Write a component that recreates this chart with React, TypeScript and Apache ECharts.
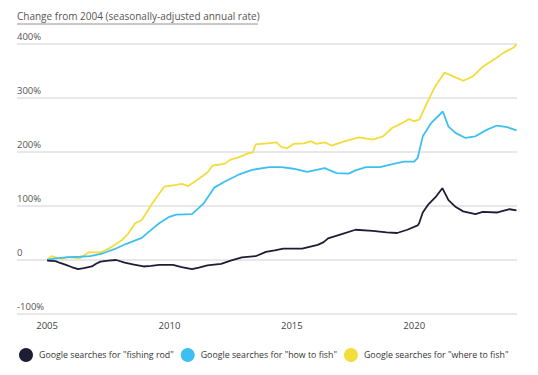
import React, { useEffect, useRef } from "react";
import * as echarts from "echarts";

const titleText = "Change from 2004 (seasonally-adjusted annual rate)";
const xTickValues = [2005, 2010, 2015, 2020];
const yTickValues = [-100, 0, 100, 200, 300, 400];

const seriesNames = [
  'Google searches for "fishing rod"',
  'Google searches for "how to fish"',
  'Google searches for "where to fish"',
];
const seriesColors = ["#1f1d35", "#3dc0f1", "#f3dc3b"];

const fishingRod: [number, number][] = [
  [2005.0, -1], [2005.35, -2], [2005.5, -5], [2005.77, -9], [2006.0, -13], [2006.27, -17],
  [2006.5, -15], [2006.83, -12], [2007.0, -7], [2007.18, -3], [2007.5, -1], [2007.82, 0],
  [2008.17, -5], [2008.5, -8], [2008.94, -12], [2009.25, -11], [2009.58, -9], [2010.14, -9],
  [2010.5, -13], [2010.92, -17], [2011.2, -14], [2011.55, -10], [2012.11, -7], [2012.5, -1],
  [2012.96, 5], [2013.52, 7], [2013.94, 15], [2014.3, 18], [2014.65, 21], [2015.42, 21],
  [2016.06, 28], [2016.3, 33], [2016.48, 40], [2017.04, 48], [2017.6, 56], [2018.3, 54],
  [2018.87, 51], [2019.3, 50], [2019.72, 56], [2020.14, 64], [2020.2, 68], [2020.35, 88],
  [2020.56, 102], [2020.9, 118], [2021.15, 133], [2021.4, 111], [2021.7, 98], [2022.0, 90],
  [2022.5, 85], [2022.8, 89], [2023.4, 88], [2023.9, 94], [2024.18, 92],
];

const howToFish: [number, number][] = [
  [2005.0, 0], [2005.35, 3], [2005.77, 5], [2006.34, 6], [2006.76, 7], [2007.25, 12],
  [2007.75, 20], [2008.24, 30], [2008.87, 41], [2009.15, 52], [2009.58, 68], [2010.0, 80],
  [2010.28, 84], [2010.92, 85], [2011.4, 105], [2011.83, 134], [2012.25, 145], [2012.82, 158],
  [2013.38, 167], [2014.08, 172], [2014.58, 172], [2015.07, 169], [2015.63, 163], [2016.34, 170],
  [2016.83, 161], [2017.32, 160], [2017.6, 166], [2018.03, 172], [2018.6, 172], [2019.15, 178],
  [2019.58, 182], [2020.0, 182], [2020.14, 189], [2020.35, 229], [2020.7, 254], [2021.17, 275],
  [2021.4, 247], [2021.7, 235], [2022.1, 226], [2022.5, 229], [2022.96, 241], [2023.38, 249],
  [2023.8, 246], [2024.18, 240],
];

const whereToFish: [number, number][] = [
  [2005.0, 1], [2005.2, 7], [2005.45, 3], [2005.63, 2], [2005.85, 6], [2006.34, 3],
  [2006.69, 14], [2007.18, 14], [2007.6, 23], [2008.03, 36], [2008.3, 48], [2008.6, 68],
  [2008.87, 74], [2009.3, 105], [2009.79, 136], [2010.28, 139], [2010.5, 141], [2010.77, 137],
  [2011.13, 148], [2011.55, 162], [2011.76, 175], [2012.25, 178], [2012.5, 186], [2012.82, 190],
  [2013.24, 198], [2013.4, 199], [2013.52, 214], [2014.0, 216], [2014.37, 218], [2014.58, 209],
  [2014.8, 207], [2015.07, 215], [2015.5, 216], [2015.77, 220], [2016.0, 215], [2016.34, 218],
  [2016.62, 212], [2017.18, 220], [2017.75, 227], [2018.3, 223], [2018.73, 229], [2019.08, 244],
  [2019.44, 252], [2019.79, 261], [2020.0, 257], [2020.21, 260], [2020.42, 281], [2020.85, 321],
  [2021.24, 347], [2021.55, 341], [2022.0, 332], [2022.4, 340], [2022.8, 358], [2023.38, 375],
  [2023.66, 384], [2024.08, 394], [2024.18, 400],
];

const allSeries = [fishingRod, howToFish, whereToFish];

export default function App() {
  const ref = useRef<HTMLDivElement>(null);
  useEffect(() => {
    if (!ref.current) return;
    const chart = echarts.init(ref.current, null, { renderer: "svg" });
    const font = "Open Sans";
    chart.setOption({
      animation: false,
      textStyle: { fontFamily: font },
      grid: { left: 17, right: 21, top: 44, bottom: 61, outerBoundsMode: "none", containLabel: false },
      graphic: [
        {
          type: "text",
          left: 17,
          top: 11,
          style: { text: titleText, fontSize: 10, fill: "#555", fontFamily: font },
        },
        {
          type: "line",
          shape: { x1: 17, y1: 24, x2: 258, y2: 24 },
          style: { stroke: "#777", lineWidth: 0.8 },
        },
      ],
      legend: {
        left: 19,
        top: 348,
        padding: 0,
        icon: "circle",
        itemWidth: 14,
        itemHeight: 14,
        itemGap: 7,
        textStyle: { fontSize: 8.8, color: "#333", fontFamily: font, padding: [0, 0, 0, 1] },
        data: seriesNames,
      },
      xAxis: {
        type: "value",
        min: 2003.77,
        max: 2024.2,
        axisLine: { show: false },
        axisTick: { show: false },
        splitLine: { show: false },
        axisLabel: {
          customValues: xTickValues,
          color: "#444",
          fontSize: 9.5,
          margin: 6,
          formatter: (v: number) => String(v),
        },
      },
      yAxis: {
        type: "value",
        min: -100,
        max: 400,
        interval: 100,
        axisLine: { show: false },
        axisTick: { show: false },
        splitLine: { lineStyle: { color: "#e0e0e0", width: 1.5 } },
        axisLabel: {
          inside: true,
          margin: 0,
          verticalAlign: "bottom",
          padding: [0, 0, 3, 0],
          color: "#555",
          fontSize: 9.5,
          customValues: yTickValues,
          formatter: (v: number) => (v === 0 ? "0" : v + "%"),
        },
      },
      series: allSeries.map((d, i) => ({
        name: seriesNames[i],
        type: "line",
        data: d,
        showSymbol: false,
        symbol: "none",
        smooth: false,
        lineStyle: { color: seriesColors[i], width: 1.8 },
        itemStyle: { color: seriesColors[i] },
        z: 3 - i,
      })),
    });
    return () => chart.dispose();
  }, []);
  return <div ref={ref} style={{ width: 538, height: 375, position: "absolute", left: 0, top: 0 }} />;
}
